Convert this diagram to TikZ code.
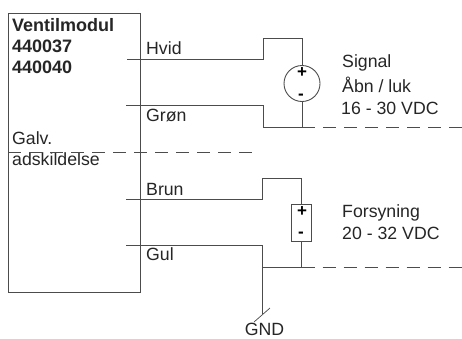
\documentclass[tikz,border=0pt]{standalone}
\usepackage{fontspec}
\setmainfont{Liberation Sans}
\definecolor{wire}{gray}{0.3}
\tikzset{
  lbl/.style={inner sep=0pt,anchor=base west,text=black!85,font=\fontsize{17.7}{20}\selectfont},
  blbl/.style={lbl,font=\fontsize{18}{20}\selectfont\bfseries},
  wireline/.style={draw=wire,line width=0.9pt},
  dashline/.style={draw=wire,line width=0.8pt,dash pattern=on 13pt off 8pt},
  sign/.style={inner sep=0pt,anchor=center,text=black,font=\fontsize{17}{18}\selectfont\bfseries},
}
\begin{document}
\begin{tikzpicture}[x=1pt,y=-1pt]
\useasboundingbox (0,0) rectangle (462,338);
\fill[white] (0,0) rectangle (462,338);
% module box
\node[wireline,inner sep=0pt,minimum width=132pt,minimum height=279pt,anchor=north west] (mod) at (8,12.5) {};
% labels
\node[blbl] (t1) at (12,31) {Ventilmodul};
\node[blbl] (t2) at (12,52) {440037};
\node[blbl] (t3) at (12,73) {440040};
\node[lbl] (t4) at (12,144) {Galv.};
\node[lbl] (t5) at (12,165.5) {adskildelse};
\node[lbl] (hvid) at (146,54) {Hvid};
\node[lbl] (gron) at (146,121) {Grøn};
\node[lbl] (brun) at (146,195) {Brun};
\node[lbl] (gul) at (146,260) {Gul};
\node[lbl] (s1) at (342,67) {Signal};
\node[lbl] (s2) at (342,92) {Åbn / luk};
\node[lbl] (s3) at (341,114) {16 - 30 VDC};
\node[lbl] (f1) at (342,217) {Forsyning};
\node[lbl] (f2) at (342,239) {20 - 32 VDC};
\node[lbl,anchor=base] (gnd) at (264.5,335.5) {GND};
% sources
\node[wireline,circle,inner sep=0pt,minimum size=36pt] (src) at (302,83.5) {};
\node[sign] (sp) at (302,73) {+};
\node[sign] (sm) at (301,97) {-};
\node[wireline,rectangle,inner sep=0pt,minimum width=20.5pt,minimum height=37pt] (bat) at (301.5,222.5) {};
\node[sign] (bp) at (302,212) {+};
\node[sign] (bm) at (301,235) {-};
% free ends
\coordinate (a1) at (127,59.5);
\coordinate (a2) at (263,59.5);
\coordinate (a3) at (263,38.5);
\coordinate (a4) at (302,38.5);
\coordinate (b1) at (126,105);
\coordinate (b2) at (263,105);
\coordinate (b3) at (263,127.5);
\coordinate (b4) at (302,127.5);
\coordinate (b5) at (462,127.5);
\coordinate (g1) at (8,152);
\coordinate (g2) at (256,152);
\coordinate (c1) at (126,199);
\coordinate (c2) at (262.5,199);
\coordinate (c3) at (262.5,178);
\coordinate (c4) at (301.5,178);
\coordinate (d1) at (126,245);
\coordinate (d2) at (262.5,245);
\coordinate (d3) at (262.5,267);
\coordinate (d4) at (301.5,267);
\coordinate (d5) at (462,267);
\coordinate (d6) at (262.5,314);
\coordinate (e1) at (254,322);
\coordinate (e2) at (270,308);
% connectors
\draw[wireline] (a1) -- (a2) -- (a3) -- (a4) -- (src.north);
\draw[wireline] (b1) -- (b2) -- (b3) -- (b4) -- (src.south);
\draw[dashline] (b4) -- (b5);
\draw[dashline] (g1) -- (g2);
\draw[wireline] (c1) -- (c2) -- (c3) -- (c4) -- (bat.north);
\draw[wireline] (d1) -- (d2) -- (d3) -- (d4) -- (bat.south);
\draw[wireline] (d3) -- (d6);
\draw[dashline] (d4) -- (d5);
\draw[wireline,line width=0.7pt] (e1) -- (e2);
\end{tikzpicture}
\end{document}
